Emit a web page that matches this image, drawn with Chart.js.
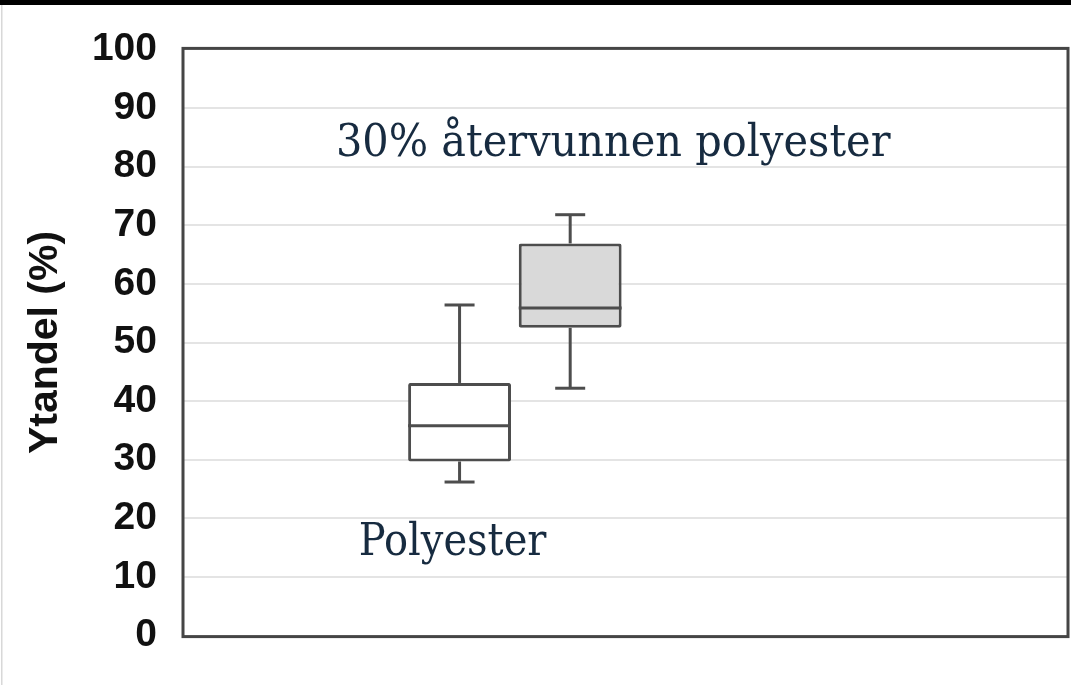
<!DOCTYPE html>
<html>
<head>
<meta charset="utf-8">
<script src="https://cdn.jsdelivr.net/npm/chart.js@4"></script>
<style>
  html, body { margin: 0; padding: 0; background: #fff; }
  #wrap { width: 1071px; height: 685px; position: relative; }
</style>
</head>
<body>
<div id="wrap"><canvas id="c"></canvas></div>
<script>
const categories = ["Polyester", "30% återvunnen polyester"];
const mins    = [26.2, 42.2];
const q1s     = [29.7, 52.5];
const medians = [35.8, 55.9];
const q3s     = [43.1, 66.9];
const maxs    = [56.4, 71.8];
const yTicks  = [0, 10, 20, 30, 40, 50, 60, 70, 80, 90, 100];

// the boxes sit in slots 2 and 3 of an 8-slot axis
const SLOTS = 8;
const FIRST = 2;
const labels = [];
const boxes = [];
for (let i = 0; i < SLOTS; i++) {
    const k = i - FIRST;
    labels.push(k >= 0 && k < categories.length ? categories[k] : "");
    boxes.push(k >= 0 && k < categories.length ? [q1s[k], q3s[k]] : null);
}

const EDGE = "#4d4d4d";
const TEXT = "#172b40";

const boxPlot = {
    id: "boxPlot",
    beforeDraw(chart) {
        const ctx = chart.ctx;
        ctx.save();
        ctx.fillStyle = "#000";
        ctx.fillRect(0, 0, chart.width, 5);
        ctx.fillStyle = "#d8d8d8";
        ctx.fillRect(1, 5, 1.5, chart.height - 5);
        ctx.restore();
    },
    afterDatasetsDraw(chart) {
        const { ctx, scales: { y } } = chart;
        const meta = chart.getDatasetMeta(0);
        ctx.save();
        ctx.strokeStyle = EDGE;
        ctx.lineWidth = 3;
        const seg = (x1, y1, x2, y2) => {
            ctx.beginPath();
            ctx.moveTo(x1, y1);
            ctx.lineTo(x2, y2);
            ctx.stroke();
        };
        categories.forEach((c, i) => {
            const bar = meta.data[FIRST + i];
            const cx = bar.x, half = bar.width / 2, cap = 15;
            const py = v => y.getPixelForValue(v);
            seg(cx - half, py(medians[i]), cx + half, py(medians[i]));
            seg(cx, py(q3s[i]), cx, py(maxs[i]));
            seg(cx, py(q1s[i]), cx, py(mins[i]));
            seg(cx - cap, py(maxs[i]), cx + cap, py(maxs[i]));
            seg(cx - cap, py(mins[i]), cx + cap, py(mins[i]));
        });
        ctx.restore();
    },
    afterDraw(chart) {
        const { ctx, chartArea: a, scales: { y } } = chart;
        const meta = chart.getDatasetMeta(0);
        ctx.save();
        ctx.strokeStyle = "#454545";
        ctx.lineWidth = 3;
        ctx.strokeRect(a.left, a.top - 1, a.right - a.left, a.bottom - a.top + 2);

        // category names, a bit taller than wide like the source
        const label = (text, size, x, yv) => {
            ctx.save();
            ctx.translate(x, y.getPixelForValue(yv));
            ctx.scale(1, 1.1);
            ctx.font = size + "px 'DejaVu Serif'";
            ctx.fillText(text, 0, 0);
            ctx.restore();
        };
        ctx.fillStyle = TEXT;
        ctx.textAlign = "center";
        ctx.textBaseline = "alphabetic";
        label(categories[0], 40, meta.data[FIRST].x - 7, 13.8);
        label(categories[1], 41.5, meta.data[FIRST + 1].x + 43, 81.9);
        ctx.restore();
    },
};

new Chart(document.getElementById("c"), {
    type: "bar",
    data: {
        labels,
        datasets: [{
            data: boxes,
            backgroundColor: labels.map((l, i) => i === FIRST + 1 ? "#d9d9d9" : "#ffffff"),
            borderColor: EDGE,
            borderWidth: 3,
            borderSkipped: false,
            borderRadius: 2,
            barPercentage: 0.93,
            categoryPercentage: 1,
        }],
    },
    options: {
        responsive: true,
        maintainAspectRatio: false,
        animation: false,
        layout: { padding: { left: 0, top: 46, right: 3, bottom: 48 } },
        plugins: { legend: { display: false }, tooltip: { enabled: false } },
        scales: {
            x: { display: false },
            y: {
                min: 0,
                max: 100,
                afterFit: s => { s.width = 183; },
                afterBuildTicks: s => { s.ticks = yTicks.map(v => ({ value: v })); },
                grid: {
                    color: ctx => (ctx.tick.value === 0 || ctx.tick.value === 100) ? "transparent" : "#e4e4e4",
                    lineWidth: 2,
                    drawTicks: false,
                },
                border: { display: false },
                ticks: {
                    padding: 26,
                    color: "#111",
                    font: { family: "'Liberation Sans', Arial, sans-serif", size: 39, weight: "bold" },
                },
                title: {
                    display: true,
                    text: "Ytandel (%)",
                    color: "#111",
                    padding: { top: 21, bottom: 0 },
                    font: { family: "'Liberation Sans', Arial, sans-serif", size: 41, weight: "bold" },
                },
            },
        },
    },
    plugins: [boxPlot],
});
</script>
</body>
</html>
